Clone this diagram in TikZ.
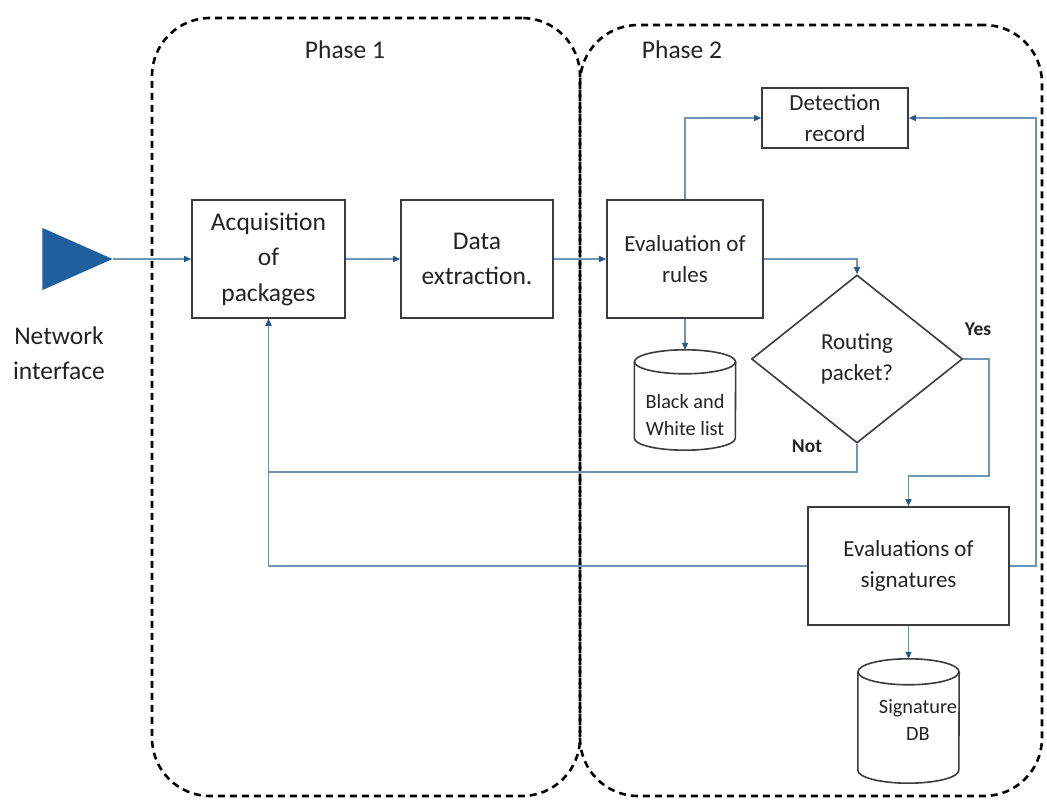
\documentclass[tikz,border=0pt]{standalone}
\usepackage{fontspec}
\setmainfont{Carlito}
\usetikzlibrary{arrows.meta,shapes.geometric,calc}
\definecolor{conncol}{RGB}{110,150,180}
\definecolor{tipcol}{RGB}{40,90,135}
\definecolor{boxcol}{RGB}{60,60,60}
\definecolor{txtcol}{RGB}{35,35,35}
\definecolor{netblue}{RGB}{32,95,157}
\begin{document}
\begin{tikzpicture}[x=1pt,y=1pt,
  phasebox/.style={draw=black, line width=2.6pt, dash pattern=on 7pt off 5pt, rounded corners=58pt, inner sep=0pt},
  procbox/.style={draw=boxcol, line width=1.6pt, fill=white, align=center, text=txtcol, inner sep=2pt},
  bigtxt/.style={font=\fontsize{25.5}{35.5}\selectfont},
  midtxt/.style={font=\fontsize{23}{31.5}\selectfont},
  smalltxt/.style={font=\fontsize{20.3}{27}\selectfont},
  decision/.style={diamond, draw=boxcol, line width=1.6pt, align=center, text=txtcol, inner sep=0pt, aspect=1.256},
  cyltext/.style={align=center, text=txtcol, inner sep=0pt, font=\fontsize{20.3}{27}\selectfont},
  cylline/.style={draw=boxcol, line width=1.6pt},
  label/.style={text=txtcol, font=\bfseries\fontsize{19.5}{24}\selectfont, inner sep=0pt},
  conn/.style={draw=conncol, line width=1.3pt},
  arr/.style={conn, -{Triangle[length=7pt,width=6pt,color=tipcol]}}
]
\useasboundingbox (0,0) rectangle (1047,806);
\fill[white] (0,0) rectangle (1047,806);

% phases
\node[phasebox, minimum width=428, minimum height=778] (p1) at (366,399) {};
\node[phasebox, minimum width=462, minimum height=771] (p2) at (811,395.5) {};
\node[bigtxt, text=txtcol] (p1t) at (345,756) {Phase 1};
\node[bigtxt, text=txtcol] (p2t) at (682,756) {Phase 2};

% network interface
\node[isosceles triangle, isosceles triangle stretches=true, fill=netblue, minimum width=62, minimum height=70, inner sep=0pt, anchor=apex] (net) at (113,547) {};
\node[bigtxt, text=txtcol, align=center] (nettxt) at (59,453) {Network\\interface};

% process boxes
\node[procbox, bigtxt, minimum width=153, minimum height=118] (acq) at (268.5,547) {Acquisition\\of\\packages};
\node[procbox, bigtxt, minimum width=152, minimum height=118] (data) at (477,547) {Data\\extraction.};
\node[procbox, midtxt, minimum width=156, minimum height=118] (rules) at (685,547) {Evaluation of\\rules};
\node[procbox, midtxt, minimum width=146, minimum height=60] (det) at (835,688) {Detection\\record};
\node[decision, midtxt, minimum width=211, minimum height=168] (diam) at (857,447) {Routing\\packet?};
\node[procbox, midtxt, minimum width=201, minimum height=118] (sig) at (908.5,240) {Evaluations of\\signatures};

% cylinders (text nodes + drawn outline)
\node[cyltext, minimum width=101, minimum height=100] (bw) at (685,406) {};
\node[cyltext] (bwt) at (685,391) {Black and\\White list};
\node[cyltext, minimum width=101, minimum height=124] (sdb) at (908.5,85) {};
\node[cyltext] (sdbt) at (918,86) {Signature\\DB};

\foreach \c/\ry in {bw/12, sdb/13}{
  \draw[cylline] ($(\c.north west)+(0,-\ry)$) -- ($(\c.south west)+(0,\ry)$)
     arc[start angle=180, end angle=360, x radius=50.5, y radius=\ry]
     -- ($(\c.north east)+(0,-\ry)$);
  \draw[cylline] ($(\c.north)+(0,-\ry)$) ellipse[x radius=50.5, y radius=\ry];
}

% labels
\node[label] (yes) at (978,477) {Yes};
\node[label] (not) at (807,360) {Not};

% connectors
\draw[arr] (net.apex) -- (acq.west);
\draw[arr] (acq.east) -- (data.west);
\draw[arr] (data.east) -- (rules.west);
\draw[arr] (rules.north) |- (det.west);
\draw[arr] (rules.east) -| (diam.north);
\draw[arr] (rules.south) -- (bw.north);
\coordinate (yesc) at (989,330);
\draw[arr] (diam.east) -| (yesc) -| (sig.north);
\coordinate (notc) at (857,334);
\draw[arr] (diam.south) -- (notc) -| (acq.south);
\draw[arr] (sig.west) -| (acq.south);
\coordinate (loopc) at (1036,688);
\draw[arr] (sig.east) -| (loopc) -- (det.east);
\draw[arr] (sig.south) -- (sdb.north);
\end{tikzpicture}
\end{document}
